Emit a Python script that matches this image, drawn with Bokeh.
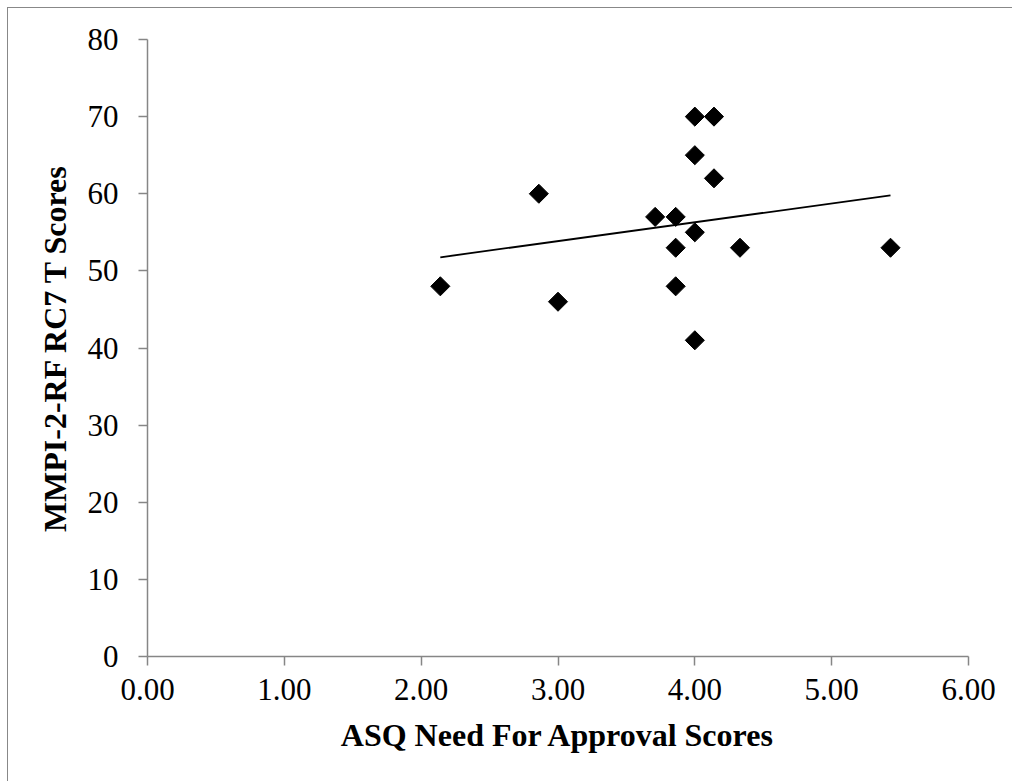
import numpy as np
from bokeh.plotting import figure
from bokeh.models import Range1d, FixedTicker, NumeralTickFormatter, ColumnDataSource
from bokeh.embed import file_html
from bokeh.resources import INLINE

# Data
asq_scores = [2.14, 2.86, 3.00, 3.71, 3.86, 3.86, 3.86, 4.00, 4.00, 4.00, 4.00, 4.14, 4.14, 4.33, 5.43]
rc7_scores = [48, 60, 46, 57, 57, 53, 48, 70, 65, 55, 41, 70, 62, 53, 53]
x_ticks = [0, 1, 2, 3, 4, 5, 6]
y_ticks = [0, 10, 20, 30, 40, 50, 60, 70, 80]

FONT = "Liberation Serif"
AXIS_GRAY = "#868686"

p = figure(width=1005, height=774, output_backend="svg", toolbar_location=None,
           x_range=Range1d(0, 6), y_range=Range1d(0, 80),
           min_border_left=139, min_border_right=45, min_border_top=31, min_border_bottom=126)
p.margin = (7, 0, 0, 7)
p.styles = {"border-left": "1px solid #888888", "border-top": "1px solid #888888"}
p.outline_line_color = None
p.xgrid.visible = False
p.ygrid.visible = False

src = ColumnDataSource(dict(x=asq_scores, y=rc7_scores))
p.scatter("x", "y", source=src, marker="square", size=13.5, angle=np.pi / 4,
          fill_color="black", line_color="black")

# Linear trend line computed from data
slope, intercept = np.polyfit(asq_scores, rc7_scores, 1)
xs = [min(asq_scores), max(asq_scores)]
ys = [slope * v + intercept for v in xs]
p.line(xs, ys, line_color="black", line_width=1.8)

for ax in (p.xaxis[0], p.yaxis[0]):
    ax.axis_line_color = AXIS_GRAY
    ax.axis_line_width = 1.5
    ax.major_tick_line_color = AXIS_GRAY
    ax.major_tick_line_width = 1.5
    ax.major_tick_out = 9
    ax.major_tick_in = 0
    ax.minor_tick_line_color = None
    ax.major_label_text_font = FONT
    ax.major_label_text_font_size = "31px"
    ax.major_label_text_color = "black"
    ax.axis_label_text_font = FONT
    ax.axis_label_text_font_size = "32px"
    ax.axis_label_text_font_style = "bold"
    ax.axis_label_text_color = "black"

p.xaxis.ticker = FixedTicker(ticks=x_ticks)
p.xaxis.formatter = NumeralTickFormatter(format="0.00")
p.yaxis.ticker = FixedTicker(ticks=y_ticks)
p.xaxis.axis_label = "ASQ Need For Approval Scores"
p.yaxis.axis_label = "MMPI-2-RF RC7 T Scores"
p.xaxis.major_label_standoff = 13
p.yaxis.major_label_standoff = 20
p.xaxis.axis_label_standoff = 14
p.yaxis.axis_label_standoff = 12

open("out.html", "w").write(file_html(p, INLINE))
